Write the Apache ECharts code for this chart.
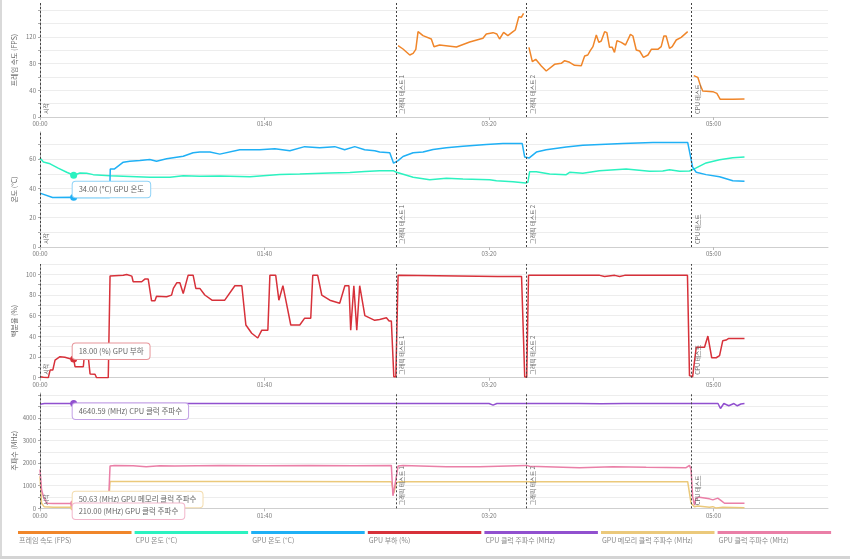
<!DOCTYPE html>
<html><head><meta charset="utf-8">
<script src="https://cdn.jsdelivr.net/npm/echarts@6.0.0/dist/echarts.min.js"></script>
<style>
html,body{margin:0;padding:0;background:#fff;}
#chart{width:850px;height:559px;}
#edgeL{position:absolute;left:0;top:0;width:2px;height:559px;background:#d9d9d9;}
#edgeB{position:absolute;left:0;top:556px;width:850px;height:3px;background:#d4d4d4;}
</style></head><body>
<div id="chart"></div><div id="edgeL"></div><div id="edgeB"></div>
<script>
// ---- data (time in seconds) ----
const legendNames = ['프레임 속도 (FPS)','CPU 온도 (°C)','GPU 온도 (°C)','GPU 부하 (%)','CPU 클럭 주파수 (MHz)','GPU 메모리 클럭 주파수 (MHz)','GPU 클럭 주파수 (MHz)'];
const colors = ['#f0862a','#2cf2c0','#1fb0f5','#d7313a','#9150cf','#ebc97b','#ea7fa7'];
const axisNames = ['프레임 속도 (FPS)','온도 (°C)','백분율 (%)','주파수 (MHz)'];
const markerTimes = [0, 158.5, 216.8, 290.2];
const markerNames = ['시작', '그래픽 테스트 1', '그래픽 테스트 2', 'CPU 테스트'];
const pointerTime = 15;

const fpsData = [
 [159.5,107],[161.7,102],[164.7,93],[166.2,95.5],[167.4,101.5],[168.4,128],[170.6,122],[174.3,117],[175.5,105.5],[178,108],[185.5,105],[191.4,112.5],[197.3,118],[198.8,124.5],[201.8,126.5],[203.5,124.5],[204.7,117],[206.5,127],[208.4,122],[210.7,128],[211.7,130.5],[213.3,150.5],[214.4,149.5],[215.4,155.5],
 [216.5,'-'],
 [217.8,104.5],[219.3,83],[220.8,86.5],[223.3,76.5],[225.5,69],[229.2,79],[232.2,80.5],[233.7,84.5],[235.9,82],[238.1,77.5],[241.1,77],[242.6,91.5],[244,93],[245.1,99.5],[246.3,105.5],[247.8,123],[248.9,112],[250,114],[251.5,128],[252.5,126.5],[253.7,104.5],[254.9,104.5],[255.9,97],[257,114.5],[258.9,112],[260.8,108],[263,124],[264.1,121.5],[265.6,100.5],[267.1,99],[268.8,89.5],[270.8,93],[272.3,101.5],[275.2,101.5],[276.7,105.5],[277.9,121.5],[278.9,121.5],[280.4,103],[281.6,105.5],[283.4,115.5],[285.6,119.5],[288.5,128],
 [290,'-'],
 [291.2,62],[293,59.5],[294.1,48],[295.2,39],[299.7,38],[301.5,35.5],[303,26.5],[308.6,26.5],[313.8,27]
];
const cpuTempData = [
 [0,60.7],[1.5,58],[4.5,56.8],[8.1,53.8],[11.9,51],[15,49],[17.8,50.5],[20.8,50.3],[23.7,49.4],[31.2,48.7],[49,47.6],[57.9,47.6],[63.8,48.7],[71.2,48.3],[80.1,48.5],[93.5,48],[106.8,49.5],[115.7,49.8],[129.1,50.5],[138,50.8],[144.7,51.5],[151.3,52.1],[157.3,52.1],[158.8,51],[166.2,47.6],[173.6,45.9],[181,46.9],[188.4,46.4],[200.3,45.9],[203.3,45.2],[210.7,44.6],[216.3,43.7],[217.3,44.1],[218.1,51.4],[221.1,51.4],[227,49.9],[234.4,49.4],[235.9,51],[241.8,50.3],[249.2,52.1],[261.1,53.3],[271.5,51.7],[277.4,51.9],[280.4,52.8],[284.9,51.7],[289.3,51.9],[292.3,54],[296.7,57.4],[302.7,59.5],[308.6,60.9],[313.8,61.4]
];
const gpuTempData = [
 [0,36.8],[5.6,33.8],[15,34],[31,33.8],[31.3,53.3],[33.2,53.3],[37.1,57.9],[40,58.6],[44.5,59],[48.9,59.7],[51.9,58.6],[56.4,60.2],[63.8,62],[68.2,64.3],[71.2,64.8],[75.7,64.8],[80.1,63.4],[89,66.4],[97.9,66.4],[104.6,67],[111.3,65.7],[117.9,68.5],[124.6,67.8],[131.3,68.5],[135.7,66.4],[140.2,68.5],[144.6,66.4],[149.1,65.7],[151.3,64.8],[155.8,64.3],[156.5,64.8],[157.5,57.2],[159.5,59],[161.7,61.8],[166.2,64.3],[170.6,64.8],[175.1,66.6],[181,67.8],[188.4,68.7],[198.8,69.9],[206.2,70.6],[214.8,70.6],[215.9,61.4],[217.8,60.7],[221.1,64.8],[225.5,66.4],[234.4,68.3],[241.8,69.4],[259.6,70.6],[273,71.4],[288.5,71.4],[290.7,54.5],[292.3,51],[296.7,49.4],[302.7,48],[308.6,45.2],[313.8,44.8]
];
const gpuLoadData = [
 [0,1],[1.5,0.4],[3.7,0],[4.5,7.4],[5.7,7.4],[6.7,17],[8.9,20.3],[11.1,19.7],[13.4,18.4],[15,18],[15.6,10.6],[19.3,10.6],[19.7,20.3],[21.5,20.3],[22.3,3.6],[24.5,3.3],[25.2,0],[30.4,0],[31.2,98.3],[37.1,99.2],[38.6,99.9],[40.9,98.3],[41.5,92.8],[45.3,92.8],[46.7,95.4],[48.2,95.4],[49.7,74.4],[51.2,74.4],[51.9,78.9],[56.4,78.3],[58.6,79.9],[59.4,86.4],[60.9,91.8],[62.3,91.8],[63.8,81.5],[64.5,81.5],[66,99.2],[68.2,99.2],[69.4,86.4],[71.2,86.4],
 [73.4,80],[76.6,75],[82.3,75],[86.8,89],[89.9,89],[91.7,51],[94.3,43],[97,38.4],[98.8,46],[101.5,46],[102.4,99],[105,99],[106.4,75],[108.2,89],[109.5,75],[111.7,51],[115.7,51],[117.9,57.6],[120.6,57.6],[121.5,99],[123.7,99],[125.5,80],[129.1,75],[133.5,72],[135.8,89],[137.6,89],[138.4,46],[139.8,89],[141.1,46],[142.4,89],[144.7,60],[149.1,55.5],[151.3,56.4],[154.3,58],[155.5,54.8],[156.5,54.8],[157.6,1],[158.5,1],[159.5,99.2],
 [203.8,98],[213.6,98],[214.5,98],[215.9,1],[216.8,0.5],[217.6,99],[249.3,99],[251.5,98],[256,99],[258.2,98],[260.4,99],[288.4,99],[289.3,2],[290.7,1],
 [292.3,29.4],[296,29.4],[297.5,40.3],[298.2,40.3],[299.2,19.3],[301.2,19.3],[302.7,21.3],[303.4,21.3],[304.1,35.7],[305.6,36.4],[306.8,38],[313.8,38]
];
const cpuClockData = [
 [0,4610],[2,4640],[15,4640.59],[40,4640],[80,4641],[120,4640],[150,4640],[158,4642],[180,4640],[200,4640],[201.8,4568],[203.5,4640],[230,4636],[240,4645],[250,4632],[260,4643],[270,4636],[280,4644],[290,4640],[302,4640],[303.1,4418],[304.6,4642],[306.8,4540],[309.1,4640],[310.6,4540],[312.2,4620],[313.8,4640]
];
const gpuMemClockData = [
 [0,1420],[0.7,225],[1.8,72],[6,50.63],[15,50.63],[30.5,50.63],[31.2,1188],[100,1188],[156.5,1180],[157.1,1123],[157.6,674],[158.8,1137],[160.2,1180],[288.5,1180],[290,225],[291.5,72],[293,103],[298.2,45],[299.7,72],[301.2,10],[304.1,45],[313.8,27]
];
const gpuClockData = [
 [0,1721],[0.7,822],[1.5,521],[3,225],[6,210],[15,210],[30.5,210],[31.2,1870],[33.2,1900],[41.5,1880],[47.3,1842],[53.4,1880],[60,1870],[80,1890],[100,1880],[120,1895],[140,1885],[156.5,1900],[157.2,553],[158,971],[159.5,1870],[161.7,1900],[181,1842],[195.8,1842],[216.6,1900],[218.1,1860],[240.3,1797],[255.1,1842],[270,1820],[287.8,1797],[289.3,1900],[290,1721],[290.7,521],[291.5,148],[292.2,449],[293.7,494],[298.2,418],[299.7,373],[301.9,449],[303.4,341],[304.9,225],[313.8,225]
];

// ---- layout ----
const gridTops = [3, 132, 264, 393];
const gridHeights = [114, 115, 113.7, 115.3];
const yMax = [171, 78.5, 110, 5106];
const yStep = [20, 10, 10, 500];
const yLabelStep = [40, 20, 20, 1000];
const yLabelMax = [120, 60, 100, 4000];
const showTopLine = [false, false, true, false];

function mmss(v){ const m = Math.floor(v/60), s = Math.round(v%60); return String(m).padStart(2,'0')+':'+String(s).padStart(2,'0'); }

const grids = gridTops.map((t,i)=>({left:40, right:22, top:t, height:gridHeights[i], containLabel:false, outerBoundsMode:'none'}));
const xAxes = gridTops.map((t,i)=>({
  type:'value', gridIndex:i, min:0, max:351, interval:100,
  axisLine:{show:true, lineStyle:{color:'#cfcfcf'}},
  axisTick:{show:true, length:3, lineStyle:{color:'#bbb'}},
  axisLabel:{fontSize:6, color:'#777', margin:4, showMaxLabel:false, formatter:mmss},
  splitLine:{show:false}
}));
const yAxes = gridTops.map((t,i)=>({
  type:'value', gridIndex:i, min:0, max:yMax[i], interval:yStep[i],
  name:axisNames[i], nameLocation:'middle', nameGap:22, nameMoveOverlap:false,
  nameTextStyle:{fontSize:7, color:'#666'},
  axisLine:{show:true, lineStyle:{color:'#aaa', type:[2,1]}},
  axisTick:{show:true, length:2, lineStyle:{color:'#aaa'}},
  axisLabel:{fontSize:6, color:'#777', margin:4, showMaxLabel:false,
    formatter:v => (Math.abs(v % yLabelStep[i]) < 1e-6 && v <= yLabelMax[i]) ? String(v) : ''},
  splitLine:{show:true, showMaxLine:showTopLine[i], lineStyle:{color:'#ededed', width:1}}
}));

function markers(){
  return {
    silent:true, symbol:['none','none'], animation:false,
    lineStyle:{type:[2,2], color:'#444', width:1},
    label:{show:true, position:'insideStartBottom', fontSize:6, color:'#666', distance:3, formatter:p=>p.name},
    data: markerTimes.map((t,i)=>({name:markerNames[i], xAxis:t}))
  };
}
function pointer(value, unit, name, color, border, where){
  const lbl = where ? {
    show:true, position:['50%','50%'], align:'left', verticalAlign: where==='up'?'bottom':'top',
    offset:[-1,0],
    formatter: value.toFixed(2)+' ('+unit+') '+name,
    fontSize:7.5, color:'#666', backgroundColor:'#fff', borderColor:border, borderWidth:1, borderRadius:3,
    padding:[4,6]
  } : {show:false};
  return {
    symbol:'circle', symbolSize:7, silent:true, animation:false,
    itemStyle:{color:color},
    label:lbl,
    data:[{coord:[pointerTime, value], value:value}]
  };
}

const lineBase = {type:'line', showSymbol:false, symbol:'none', animation:false, lineStyle:{width:1.5}, connectNulls:false};
const series = [
  Object.assign({}, lineBase, {name:legendNames[0], xAxisIndex:0, yAxisIndex:0, data:fpsData, color:colors[0], markLine:markers()}),
  Object.assign({}, lineBase, {name:legendNames[1], xAxisIndex:1, yAxisIndex:1, data:cpuTempData, color:colors[1], markLine:markers(), markPoint:pointer(49,'°C','CPU 온도',colors[1],'#9ff5dc',null)}),
  Object.assign({}, lineBase, {name:legendNames[2], xAxisIndex:1, yAxisIndex:1, data:gpuTempData, color:colors[2], markPoint:pointer(34,'°C','GPU 온도',colors[2],'#8fd3f7','up')}),
  Object.assign({}, lineBase, {name:legendNames[3], xAxisIndex:2, yAxisIndex:2, data:gpuLoadData, color:colors[3], markLine:markers(), markPoint:pointer(18,'%','GPU 부하',colors[3],'#e7959a','up')}),
  Object.assign({}, lineBase, {name:legendNames[4], xAxisIndex:3, yAxisIndex:3, data:cpuClockData, color:colors[4], markLine:markers(), markPoint:pointer(4640.59,'MHz','CPU 클럭 주파수',colors[4],'#c3a2e6','down')}),
  Object.assign({}, lineBase, {name:legendNames[5], xAxisIndex:3, yAxisIndex:3, data:gpuMemClockData, color:colors[5], markPoint:pointer(50.63,'MHz','GPU 메모리 클럭 주파수',colors[5],'#f3dcae','up')}),
  Object.assign({}, lineBase, {name:legendNames[6], xAxisIndex:3, yAxisIndex:3, data:gpuClockData, color:colors[6], markPoint:pointer(210,'MHz','GPU 클럭 주파수',colors[6],'#f2b6cb','down')})
];

// custom legend (bar above, text below)
const legendGraphics = [];
legendNames.forEach((n,i)=>{
  const x = 18 + i*116.6;
  legendGraphics.push({type:'rect', left:x, top:531, shape:{width:113.5, height:3}, style:{fill:colors[i]}, silent:true});
  legendGraphics.push({type:'text', left:x+1, top:537, style:{text:n, fontSize:7, fill:'#888', fontFamily:'Noto Sans CJK KR'}, silent:true});
});

const chart = echarts.init(document.getElementById('chart'), null, {renderer:'canvas'});
chart.setOption({
  backgroundColor:'#fff',
  animation:false,
  textStyle:{fontFamily:'Noto Sans CJK KR, Noto Sans, sans-serif'},
  grid:grids, xAxis:xAxes, yAxis:yAxes, series:series,
  graphic:legendGraphics
});
</script></body></html>
